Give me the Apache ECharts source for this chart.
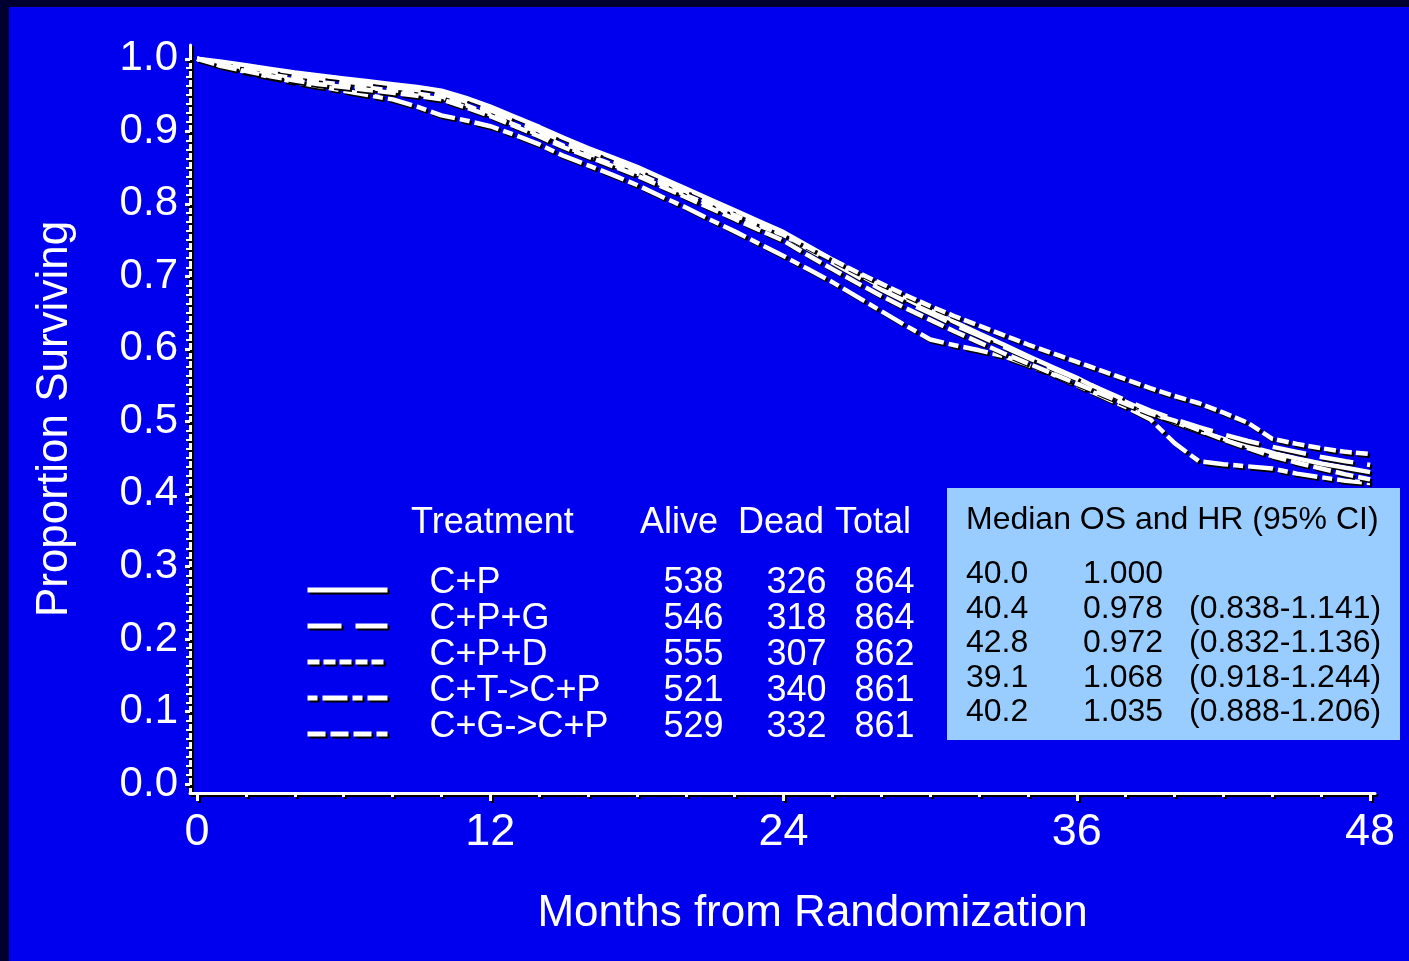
<!DOCTYPE html>
<html><head><meta charset="utf-8">
<script src="https://cdn.jsdelivr.net/npm/echarts@6/dist/echarts.min.js"></script>
<style>
html,body{margin:0;padding:0;width:1409px;height:961px;background:#000030;overflow:hidden}
#panel{position:absolute;left:9px;top:7px;width:1400px;height:954px;background:#0000EE}
#chart{position:absolute;left:0;top:0;width:1409px;height:961px}
</style></head><body>
<div id="panel"></div><div id="chart"></div>
<script>
// ---------- data ----------
const months = [0,1,2,3,4,5,6,7,8,9,10,11,12,13,14,15,16,17,18,19,20,21,22,23,24,25,26,27,28,29,30,31,32,33,34,35,36,37,38,39,40,41,42,43,44,45,46,47,48];
const seriesNames = ['C+P','C+P+G','C+P+D','C+T->C+P','C+G->C+P'];
const survCP = [1.000,0.996,0.991,0.986,0.981,0.977,0.973,0.969,0.965,0.961,0.956,0.946,0.934,0.920,0.906,0.891,0.877,0.864,0.851,0.836,0.821,0.806,0.791,0.776,0.761,0.742,0.723,0.704,0.686,0.669,0.653,0.637,0.621,0.606,0.590,0.575,0.560,0.543,0.527,0.512,0.499,0.487,0.476,0.466,0.457,0.449,0.442,0.436,0.430];
const survCPG = [1.000,0.994,0.989,0.983,0.978,0.973,0.969,0.965,0.961,0.957,0.952,0.941,0.929,0.915,0.901,0.886,0.873,0.860,0.847,0.832,0.817,0.802,0.787,0.772,0.757,0.738,0.719,0.700,0.682,0.665,0.649,0.633,0.618,0.603,0.588,0.573,0.559,0.544,0.529,0.515,0.503,0.492,0.482,0.473,0.465,0.458,0.451,0.445,0.440];
const survCPD = [1.000,0.992,0.985,0.978,0.973,0.968,0.964,0.960,0.956,0.952,0.947,0.936,0.923,0.909,0.895,0.880,0.867,0.854,0.842,0.827,0.812,0.798,0.784,0.770,0.757,0.740,0.723,0.706,0.690,0.674,0.659,0.645,0.632,0.619,0.606,0.594,0.582,0.570,0.558,0.546,0.535,0.525,0.512,0.498,0.476,0.469,0.463,0.458,0.455];
const survCTCP = [1.000,0.990,0.982,0.975,0.968,0.962,0.956,0.950,0.944,0.934,0.922,0.915,0.907,0.895,0.882,0.866,0.853,0.840,0.826,0.810,0.795,0.778,0.762,0.745,0.728,0.710,0.692,0.672,0.652,0.632,0.613,0.605,0.598,0.590,0.578,0.565,0.550,0.535,0.520,0.503,0.470,0.445,0.441,0.438,0.435,0.428,0.423,0.418,0.415];
const survCGCP = [1.000,0.990,0.983,0.976,0.970,0.965,0.961,0.957,0.953,0.949,0.944,0.933,0.921,0.907,0.893,0.878,0.865,0.852,0.839,0.824,0.809,0.794,0.779,0.764,0.749,0.729,0.710,0.691,0.673,0.656,0.640,0.624,0.609,0.594,0.580,0.566,0.552,0.538,0.524,0.511,0.501,0.488,0.475,0.463,0.452,0.443,0.435,0.427,0.420];
const alive = [538,546,555,521,529];
const dead  = [326,318,307,340,332];
const total = [864,864,862,861,861];
const medianOS = ['40.0','40.4','42.8','39.1','40.2'];
const hazardRatio = ['1.000','0.978','0.972','1.068','1.035'];
const ci95 = ['','(0.838-1.141)','(0.832-1.136)','(0.918-1.244)','(0.888-1.206)'];
const xTicks = [0,12,24,36,48];
const xMinorTicks = [2,4,6,8,10,14,16,18,20,22,26,28,30,32,34,38,40,42,44,46];
const yTicks = [0,0.1,0.2,0.3,0.4,0.5,0.6,0.7,0.8,0.9,1.0];
const yMinorTicks = [0.0125,0.025,0.0375,0.05,0.0625,0.075,0.0875,0.1125,0.125,0.1375,0.15,0.1625,0.175,0.1875,0.2125,0.225,0.2375,0.25,0.2625,0.275,0.2875,0.3125,0.325,0.3375,0.35,0.3625,0.375,0.3875,0.4125,0.425,0.4375,0.45,0.4625,0.475,0.4875,0.5125,0.525,0.5375,0.55,0.5625,0.575,0.5875,0.6125,0.625,0.6375,0.65,0.6625,0.675,0.6875,0.7125,0.725,0.7375,0.75,0.7625,0.775,0.7875,0.8125,0.825,0.8375,0.85,0.8625,0.875,0.8875,0.9125,0.925,0.9375,0.95,0.9625,0.975,0.9875];
const tableHeader = ['Treatment','Alive','Dead','Total'];
const statsTitle = 'Median OS and HR (95% CI)';
const xTitle = 'Months from Randomization';
const yTitle = 'Proportion Surviving';

// ---------- styles ----------
const FONT = '"Liberation Sans", Arial, sans-serif';
const dashStyles = ['solid',[34,14],[12,4],[10,5,25,5],[18,5]];
const survData = [survCP, survCPG, survCPD, survCTCP, survCGCP];
const shadow = {textShadowColor:'#000', textShadowOffsetX:2, textShadowOffsetY:2, textShadowBlur:0};
const lineShadow = {shadowColor:'#000', shadowOffsetX:2, shadowOffsetY:2, shadowBlur:0};

const chart = echarts.init(document.getElementById('chart'), null, {renderer:'canvas'});

const series = seriesNames.map((name, i) => ({
  name, type:'line', symbol:'none', showSymbol:false, animation:false,
  xAxisIndex:0, yAxisIndex:0, z:3,
  itemStyle:{color:'#fff'},
  lineStyle: Object.assign({color:'#fff', width:4.5, type:dashStyles[i], cap:'butt'}, lineShadow),
  data: months.map((m, k) => [m, survData[i][k]])
}));

const rowIndex = {};
seriesNames.forEach((n,i)=>rowIndex[n]=i);

const graphic = [];
const hdrX = [411, 640, 738, 835];
tableHeader.forEach((t,i)=>graphic.push({type:'text', z:10, x:hdrX[i], y:523,
  style:Object.assign({text:t, fill:'#fff', font:'36px '+FONT, verticalAlign:'middle'}, shadow)}));
graphic.push({type:'rect', z:9, shape:{x:947, y:488, width:453, height:252}, style:{fill:'#99CCFF'}});
graphic.push({type:'text', z:10, x:966, y:520, style:{text:statsTitle, fill:'#000', font:'32px '+FONT, verticalAlign:'middle'}});
const rowY = [574, 609, 643, 678, 712];
seriesNames.forEach((n,i)=>{
  graphic.push({type:'text', z:10, x:966, y:rowY[i], style:{text:medianOS[i], fill:'#000', font:'32px '+FONT, verticalAlign:'middle'}});
  graphic.push({type:'text', z:10, x:1083, y:rowY[i], style:{text:hazardRatio[i], fill:'#000', font:'32px '+FONT, verticalAlign:'middle'}});
  graphic.push({type:'text', z:10, x:1189, y:rowY[i], style:{text:ci95[i], fill:'#000', font:'32px '+FONT, verticalAlign:'middle'}});
});

const richBase = Object.assign({color:'#fff', fontSize:36, fontFamily:FONT, lineHeight:36}, shadow);
const option = {
  backgroundColor:'transparent',
  animation:false,
  grid:{left:190, right:34, top:45, bottom:168, containLabel:false},
  xAxis:[{
    type:'value', min:-0.29, max:48.2, position:'bottom',
    axisLine:{show:true, onZero:false, lineStyle:Object.assign({color:'#fff', width:3}, lineShadow)},
    axisTick:{show:true, customValues:xTicks, length:8, inside:false, lineStyle:Object.assign({color:'#fff', width:3}, lineShadow)},
    axisLabel:Object.assign({customValues:xTicks, color:'#fff', fontSize:45, fontFamily:FONT, margin:17, formatter:v=>String(v)}, shadow),
    splitLine:{show:false},
    name:xTitle, nameLocation:'middle', nameGap:99,
    nameTextStyle:Object.assign({color:'#fff', fontSize:44, fontFamily:FONT, padding:[0,0,0,60]}, shadow)
  },{
    type:'value', min:-0.29, max:48.2, position:'bottom',
    axisLine:{show:false, onZero:false},
    axisTick:{show:true, customValues:xMinorTicks, length:4, inside:false, lineStyle:Object.assign({color:'#fff', width:3}, lineShadow)},
    axisLabel:{show:false}, splitLine:{show:false}
  }],
  yAxis:[{
    type:'value', min:-0.0124, max:1.019, position:'left',
    axisLine:{show:true, onZero:false, lineStyle:Object.assign({color:'#fff', width:3}, lineShadow)},
    axisTick:{show:true, customValues:yTicks, length:5, inside:false, lineStyle:Object.assign({color:'#fff', width:3}, lineShadow)},
    axisLabel:Object.assign({customValues:yTicks, color:'#fff', fontSize:42, fontFamily:FONT, margin:12, formatter:v=>v.toFixed(1)}, shadow),
    splitLine:{show:false},
    name:yTitle, nameLocation:'middle', nameGap:113, nameRotate:90,
    nameTextStyle:Object.assign({color:'#fff', fontSize:44, fontFamily:FONT}, shadow)
  },{
    type:'value', min:-0.0124, max:1.019, position:'left',
    axisLine:{show:false, onZero:false},
    axisTick:{show:true, customValues:yMinorTicks, length:4, inside:false, lineStyle:Object.assign({color:'#fff', width:2}, lineShadow)},
    axisLabel:{show:false}, splitLine:{show:false}
  }],
  legend:{
    orient:'vertical', left:300, top:560, itemWidth:80, itemHeight:12, itemGap:0,
    selectedMode:false, data:seriesNames,
    itemStyle:{opacity:0},
    lineStyle:Object.assign({color:'#fff', width:5, type:'inherit'}, lineShadow),
    textStyle:Object.assign({color:'#fff', fontSize:36, fontFamily:FONT, padding:[0,0,14,0],
      rich:{
        sp:Object.assign({}, richBase, {width:37}),
        n:Object.assign({}, richBase, {width:234}),
        a:Object.assign({}, richBase, {width:60, align:'right'}),
        d:Object.assign({}, richBase, {width:103, align:'right'}),
        t:Object.assign({}, richBase, {width:88, align:'right'})
      }}, shadow),
    formatter: name => {
      const i = rowIndex[name];
      return '{sp| }{n|' + name + '}{a|' + alive[i] + '}{d|' + dead[i] + '}{t|' + total[i] + '}';
    }
  },
  graphic: graphic,
  series: series
};
chart.setOption(option);
</script>
</body></html>
